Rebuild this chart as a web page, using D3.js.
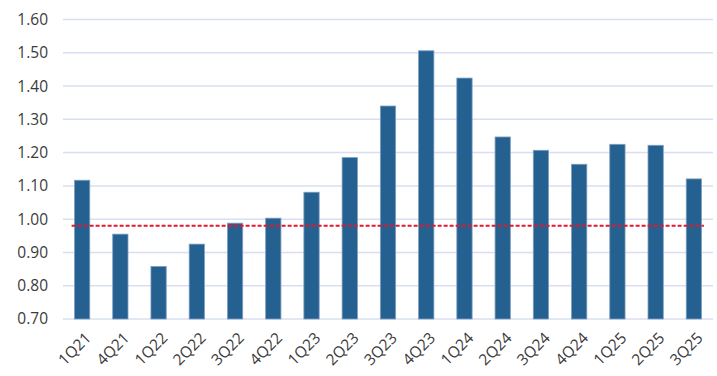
<!DOCTYPE html>
<html><head><meta charset="utf-8">
<script src="https://cdn.jsdelivr.net/npm/d3@7"></script>
<style>body{margin:0;background:#fff;}svg{display:block;}</style>
</head><body>
<script>
const categories = ["1Q21","4Q21","1Q22","2Q22","3Q22","4Q22","1Q23","2Q23","3Q23","4Q23","1Q24","2Q24","3Q24","4Q24","1Q25","2Q25","3Q25"];
const values = [1.117,0.955,0.858,0.925,0.988,1.003,1.081,1.185,1.340,1.506,1.424,1.247,1.207,1.165,1.225,1.222,1.121];
const referenceValue = 0.98;
const yTicks = [0.70,0.80,0.90,1.00,1.10,1.20,1.30,1.40,1.50,1.60];

const W = 717, H = 376;
const m = {left:63, right:4, top:19.5, bottom:57};
const svg = d3.select("body").append("svg").attr("width",W).attr("height",H);

const x = d3.scaleBand().domain(categories).range([m.left, W-m.right]).paddingInner(0.6).paddingOuter(0.3);
const y = d3.scaleLinear().domain([0.70,1.60]).range([H-m.bottom, m.top]);

const font = "'Open Sans', 'Noto Sans', sans-serif";

// gridlines
svg.append("g").selectAll("line").data(yTicks).join("line")
  .attr("x1", m.left).attr("x2", W-m.right)
  .attr("y1", d=>y(d)).attr("y2", d=>y(d))
  .attr("stroke","#d9dff2").attr("stroke-width",1.5);

// y labels
const yAxis = d3.axisLeft(y).tickValues(yTicks).tickFormat(d3.format(".2f")).tickSize(0).tickPadding(15);
const ya = svg.append("g").attr("transform",`translate(${m.left},0)`).call(yAxis);
ya.select(".domain").remove();
ya.selectAll("text").attr("font-family",font).attr("font-size",15.5).attr("fill","#3b3b3b");

// bars
svg.append("g").selectAll("rect").data(values).join("rect")
  .attr("x",(d,i)=>x(categories[i])).attr("width",x.bandwidth())
  .attr("y",d=>y(d)).attr("height",d=>y(0.70)-y(d))
  .attr("fill","#246190").attr("stroke","#7f9fc0").attr("stroke-width",0.8);

// reference line
const x0 = x(categories[0]) + x.bandwidth()/2 - 10.5;
const x1 = x(categories[categories.length-1]) + x.bandwidth()/2 + 10;
svg.append("line").attr("x1",x0).attr("x2",x1)
  .attr("y1",y(referenceValue)).attr("y2",y(referenceValue))
  .attr("stroke","#e0192f").attr("stroke-width",2).attr("stroke-dasharray","4,2");

// x labels
svg.append("g").selectAll("text").data(categories).join("text")
  .attr("transform",d=>`translate(${x(d)+x.bandwidth()/2+10},${H-m.bottom+20}) rotate(-45)`)
  .attr("text-anchor","end")
  .attr("font-family",font).attr("font-size",15.5).attr("fill","#3b3b3b")
  .text(d=>d);
</script>
</body></html>
